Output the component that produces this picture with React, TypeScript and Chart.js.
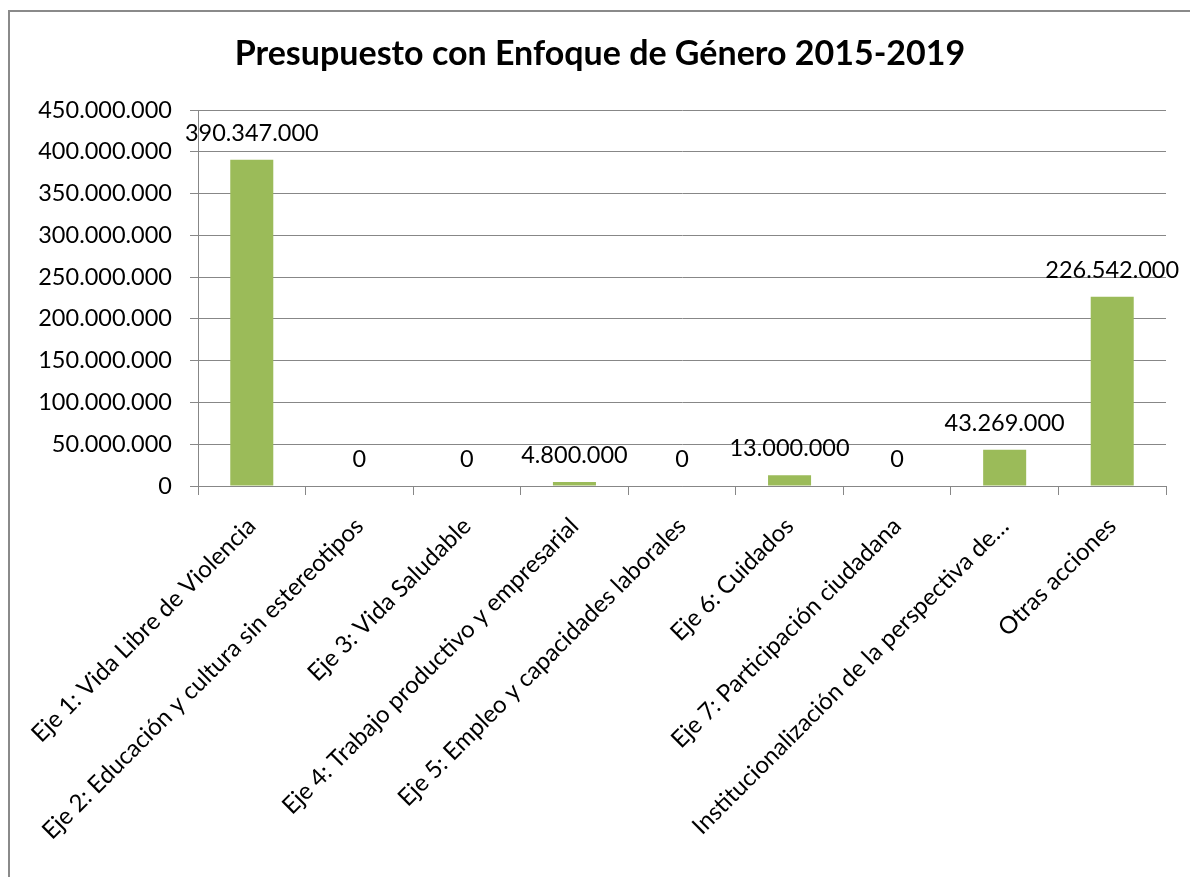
import React, { useEffect, useRef } from 'react';
import { Chart, registerables } from 'chart.js';

Chart.register(...registerables);

const chartTitle = 'Presupuesto con Enfoque de Género 2015-2019';

const categories = [
  'Eje 1: Vida Libre de Violencia',
  'Eje 2: Educación y cultura sin estereotipos',
  'Eje 3: Vida Saludable',
  'Eje 4: Trabajo productivo y empresarial',
  'Eje 5: Empleo y capacidades laborales',
  'Eje 6: Cuidados',
  'Eje 7: Participación ciudadana',
  'Institucionalización de la perspectiva de…',
  'Otras acciones',
];

const values = [390347000, 0, 0, 4800000, 0, 13000000, 0, 43269000, 226542000];

const yMin = 0;
const yMax = 450000000;
const yStep = 50000000;

const FONT = 'Lato, "Open Sans", "Liberation Sans", sans-serif';
const GRID = '#878787';
const BAR = '#9BBB59';

const fmt = (n: number) =>
  Math.round(n).toString().replace(/\B(?=(\d{3})+(?!\d))/g, '.');

// font size that makes `text` about `target` px wide
function fitSize(text: string, target: number, bold = false) {
  const c = document.createElement('canvas').getContext('2d');
  if (!c) return 22;
  c.font = `${bold ? 'bold ' : ''}100px ${FONT}`;
  const w = c.measureText(text).width;
  return Math.round((100 * target / w) * 2) / 2;
}

export default function App() {
  const ref = useRef<HTMLCanvasElement | null>(null);
  useEffect(() => {
    if (!ref.current) return;
    const titleSize = fitSize(chartTitle, 726, true);
    const numSize = fitSize('450.000.000', 134);
    const catSize = fitSize(categories[0], 304);

    const decorPlugin = {
      id: 'decor',
      beforeDraw(chart: any) {
        const ctx = chart.ctx;
        ctx.save();
        ctx.fillStyle = '#ffffff';
        ctx.fillRect(0, 0, chart.width, chart.height);
        ctx.fillStyle = '#8a8a8a';
        ctx.fillRect(8, 10, 2, chart.height - 10);
        ctx.fillRect(8, 10, chart.width - 8, 2);
        ctx.fillStyle = '#000000';
        ctx.font = `bold ${titleSize}px ${FONT}`;
        ctx.textAlign = 'center';
        ctx.textBaseline = 'alphabetic';
        ctx.fillText(chartTitle, 600, 65);
        ctx.restore();
      },
      afterDatasetsDraw(chart: any) {
        const ctx = chart.ctx;
        const meta = chart.getDatasetMeta(0);
        const data = chart.data.datasets[0].data as number[];
        ctx.save();
        ctx.fillStyle = '#000000';
        ctx.font = `${numSize}px ${FONT}`;
        ctx.textAlign = 'center';
        ctx.textBaseline = 'alphabetic';
        meta.data.forEach((el: any, i: number) => {
          ctx.fillText(fmt(data[i]), el.x, el.y - 19);
        });
        ctx.restore();
      },
    };

    const chart = new Chart(ref.current, {
      type: 'bar',
      data: {
        labels: categories,
        datasets: [
          {
            data: values,
            backgroundColor: BAR,
            borderWidth: 0,
            barPercentage: 0.4,
            categoryPercentage: 1,
          },
        ],
      },
      options: {
        animation: false,
        responsive: false,
        maintainAspectRatio: false,
        layout: { padding: { top: 110, right: 24, bottom: 0, left: 0 } },
        plugins: {
          legend: { display: false },
          title: { display: false },
          tooltip: { enabled: false },
        },
        scales: {
          x: {
            offset: true,
            grid: {
              display: true,
              drawOnChartArea: false,
              drawTicks: true,
              tickLength: 9,
              color: GRID,
              offset: true,
            },
            border: { display: true, color: GRID, width: 1 },
            ticks: {
              autoSkip: false,
              minRotation: 45,
              maxRotation: 45,
              padding: 17,
              color: '#000000',
              font: { family: FONT, size: catSize },
            },
            afterFit(scale: any) {
              scale.height = 391;
              scale.paddingLeft = 0;
              scale.paddingRight = 0;
            },
          },
          y: {
            min: yMin,
            max: yMax,
            grid: { color: GRID, tickLength: 8, lineWidth: 1 },
            border: { display: true, color: GRID, width: 1 },
            ticks: {
              stepSize: yStep,
              padding: 18,
              color: '#000000',
              font: { family: FONT, size: numSize },
              callback: (v: any) => fmt(Number(v)),
            },
            afterFit(scale: any) {
              scale.width = 198;
            },
          },
        },
      },
      plugins: [decorPlugin],
    });
    return () => chart.destroy();
  }, []);
  return (
    <div style={{ position: 'fixed', left: 0, top: 0, width: 1190, height: 877, background: '#fff' }}>
      <canvas ref={ref} width={1190} height={877} style={{ width: 1190, height: 877, display: 'block' }} />
    </div>
  );
}
